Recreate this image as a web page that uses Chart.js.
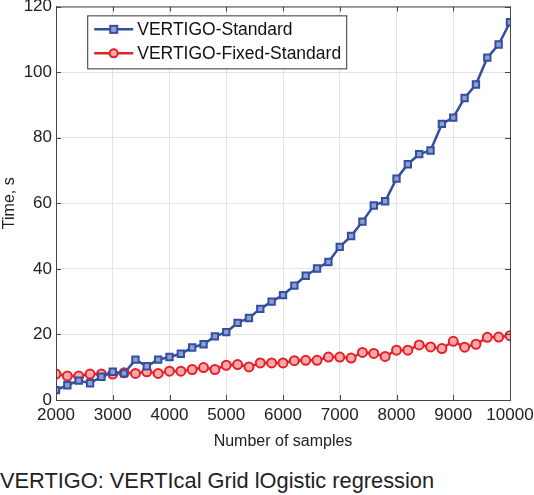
<!DOCTYPE html>
<html>
<head>
<meta charset="utf-8">
<script src="https://cdn.jsdelivr.net/npm/chart.js@4/dist/chart.umd.min.js"></script>
<style>
  body{margin:0;background:#fff;}
  #wrap{position:relative;width:534px;height:455px;}
  #caption{position:absolute;left:0;top:468px;font-family:"Liberation Sans",Arial,sans-serif;font-size:21.8px;color:#222;}
</style>
</head>
<body>
<div id="wrap"><canvas id="myChart" width="534" height="455"></canvas></div>
<div id="caption">VERTIGO: VERTIcal Grid lOgistic regression</div>
<script>
'use strict';
var samples=[2000,2200,2400,2600,2800,3000,3200,3400,3600,3800,4000,4200,4400,4600,4800,5000,5200,5400,5600,5800,6000,
  6200,6400,6600,6800,7000,7200,7400,7600,7800,8000,8200,8400,8600,8800,9000,9200,9400,9600,9800,10000];
var standardTime=[3.0,4.5,5.9,5.1,7.1,8.6,8.1,12.3,10.3,12.3,13.1,14.1,16.0,17.0,19.4,20.7,23.5,25.0,27.8,30.0,32.0,
  34.9,37.9,40.1,42.1,46.7,50.0,54.4,59.3,60.6,67.5,71.9,75.0,76.1,84.2,86.1,92.1,96.2,104.4,108.4,115.2];
var fixedTime=[7.9,7.3,7.3,7.9,7.9,7.9,8.3,8.1,8.6,8.1,8.8,8.8,9.3,9.9,9.3,10.6,10.8,10.1,11.3,11.3,11.3,
  12.0,12.1,12.1,13.1,13.1,12.8,14.5,14.2,13.3,15.2,15.2,16.8,16.2,15.7,17.9,16.1,17.0,19.1,19.2,19.6];
var seriesNames=['VERTIGO-Standard','VERTIGO-Fixed-Standard'];
var yTicks=[0,20,40,60,80,100,120];
var xTicks=[2000,3000,4000,5000,6000,7000,8000,9000,10000];

var blue='rgb(52,78,160)';
var red='rgb(230,32,40)';
var fontName='"Liberation Sans", Arial, sans-serif';

function points(ys){
  var out=[];
  for(var i=0;i<samples.length;i++){
    out.push({x:samples[i],y:ys[i]});
  }
  return out;
}

// legend box drawn inside the plot, top-left like the original
var legendBox={
  id:'legendBox',
  afterDatasetsDraw:function(chart){
    var ctx=chart.ctx;
    var x0=chart.scales.x.getPixelForValue(2550);
    var y0=chart.scales.y.getPixelForValue(117.3);
    var w=259,h=53;
    ctx.save();
    ctx.fillStyle='#fff';
    ctx.fillRect(x0,y0,w,h);
    ctx.strokeStyle='#333';
    ctx.lineWidth=1;
    ctx.strokeRect(x0+0.5,y0+0.5,w,h);
    ctx.font='17.5px '+fontName;
    ctx.textBaseline='middle';
    for(var i=0;i<chart.data.datasets.length;i++){
      var ds=chart.data.datasets[i];
      var cy=y0+14+i*24;
      ctx.strokeStyle=ds.borderColor;
      ctx.lineWidth=2.5;
      ctx.beginPath();
      ctx.moveTo(x0+7,cy);
      ctx.lineTo(x0+46,cy);
      ctx.stroke();
      ctx.lineWidth=2;
      ctx.fillStyle=ds.pointBackgroundColor;
      if(ds.pointStyle==='rect'){
        ctx.fillRect(x0+23,cy-3.5,7,7);
        ctx.strokeRect(x0+23,cy-3.5,7,7);
      }else{
        ctx.beginPath();
        ctx.arc(x0+26.5,cy,4,0,Math.PI*2);
        ctx.fill();
        ctx.stroke();
      }
      ctx.fillStyle='#111';
      ctx.fillText(ds.label,x0+50,cy+1);
    }
    ctx.restore();
  }
};

// box round the plot with short inward ticks on all four sides
var frame={
  id:'frame',
  afterDraw:function(c){
    var a=c.chartArea,g=c.ctx,i,p;
    g.save();
    g.strokeStyle='#444';
    g.lineWidth=1;
    g.strokeRect(a.left+0.5,a.top+0.5,a.right-a.left,a.bottom-a.top);
    g.beginPath();
    for(i=0;i<xTicks.length;i++){
      p=Math.round(c.scales.x.getPixelForValue(xTicks[i]))+0.5;
      g.moveTo(p,a.bottom);g.lineTo(p,a.bottom-5);
      g.moveTo(p,a.top);g.lineTo(p,a.top+5);
    }
    for(i=0;i<yTicks.length;i++){
      p=Math.round(c.scales.y.getPixelForValue(yTicks[i]))+0.5;
      g.moveTo(a.left,p);g.lineTo(a.left+5,p);
      g.moveTo(a.right,p);g.lineTo(a.right-5,p);
    }
    g.stroke();
    g.restore();
  }
};

var ctx=document.getElementById('myChart').getContext('2d');
var chart=new Chart(ctx,{
  type:'line',
  data:{
    datasets:[{
      label:seriesNames[0],
      data:points(standardTime),
      borderColor:blue,
      backgroundColor:blue,
      borderWidth:2.5,
      pointStyle:'rect',
      pointRadius:4.5,
      pointBorderWidth:2,
      pointBackgroundColor:'rgb(140,160,210)',
      pointBorderColor:blue,
      tension:0
    },{
      label:seriesNames[1],
      data:points(fixedTime),
      borderColor:red,
      backgroundColor:red,
      borderWidth:2.5,
      pointStyle:'circle',
      pointRadius:4.5,
      pointBorderWidth:2,
      pointBackgroundColor:'rgb(248,170,172)',
      pointBorderColor:red,
      tension:0
    }]
  },
  options:{
    responsive:false,
    animation:false,
    layout:{padding:{top:0,right:0,left:0,bottom:0}},
    plugins:{legend:{display:false},tooltip:{enabled:false}},
    scales:{
      x:{
        type:'linear',
        min:2000,max:10000,
        afterBuildTicks:function(s){s.ticks=xTicks.map(function(v){return {value:v};});},
        afterFit:function(s){s.height=55;s.paddingRight=24;},
        grid:{color:'#e3e3e3',drawTicks:false},
        border:{color:'#444',width:1},
        ticks:{color:'#222',font:{family:fontName,size:17},padding:5,maxRotation:0,autoSkip:false,
          callback:function(v){return String(v);}},
        title:{display:true,text:'Number of samples',color:'#222',font:{family:fontName,size:16},padding:{top:3}}
      },
      y:{
        min:0,max:120,
        afterBuildTicks:function(s){s.ticks=yTicks.map(function(v){return {value:v};});},
        afterFit:function(s){s.width=56;s.paddingTop=6;},
        grid:{color:'#e3e3e3',drawTicks:false},
        border:{color:'#444',width:1},
        ticks:{color:'#222',font:{family:fontName,size:17},padding:4,callback:function(v){return String(v);}},
        title:{display:true,text:'Time, s',color:'#222',font:{family:fontName,size:16},padding:{top:0,bottom:0}}
      }
    }
  },
  plugins:[legendBox,frame]
});
</script>
</body>
</html>
